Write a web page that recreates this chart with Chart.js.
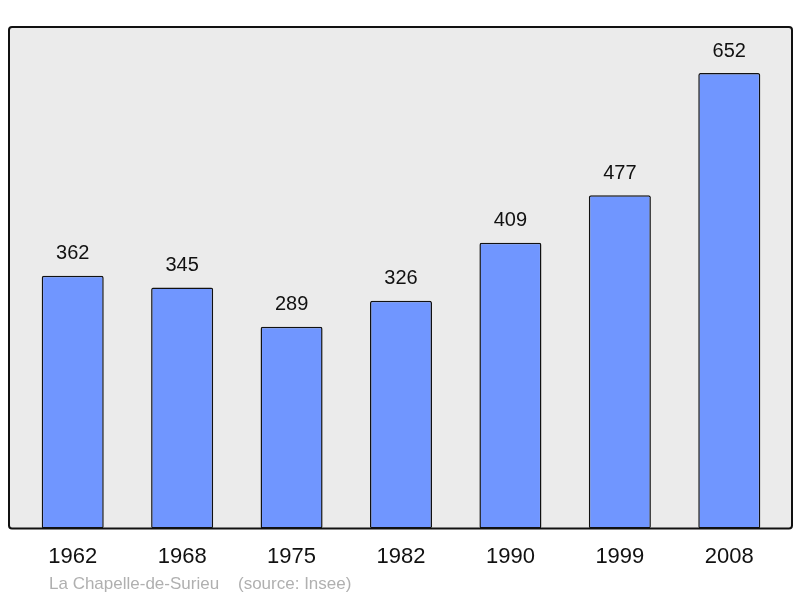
<!DOCTYPE html>
<html>
<head>
<meta charset="utf-8">
<script src="https://cdn.jsdelivr.net/npm/chart.js@4"></script>
<style>
  html, body { margin: 0; padding: 0; background: #fff; }
  #wrap { width: 800px; height: 598px; position: relative; }
</style>
</head>
<body>
<div id="wrap"><canvas id="chart" width="800" height="598"></canvas></div>
<script>
// ── Données ──
const years  = ['1962', '1968', '1975', '1982', '1990', '1999', '2008'];
const values = [362, 345, 289, 326, 409, 477, 652];
const source = 'La Chapelle-de-Surieu    (source: Insee)';

// ── Cadre gris arrondi ──
const frame = {
  id: 'frame',
  beforeDraw(chart) {
    const { ctx, chartArea: a } = chart;
    const x = a.left - 9, y = a.top, w = (a.right + 8) - x, h = a.bottom - a.top;
    ctx.save();
    ctx.beginPath();
    ctx.roundRect(x, y, w, h, 3);
    ctx.fillStyle = '#ebebeb';
    ctx.fill();
    ctx.lineWidth = 2;
    ctx.strokeStyle = '#111';
    ctx.stroke();
    ctx.restore();
  }
};

// ── Valeurs au-dessus des barres + source ──
const labels = {
  id: 'labels',
  afterDatasetsDraw(chart) {
    const { ctx } = chart;
    const meta = chart.getDatasetMeta(0);
    ctx.save();
    ctx.font = '20px "Liberation Sans", Arial, sans-serif';
    ctx.fillStyle = '#111';
    ctx.textAlign = 'center';
    ctx.textBaseline = 'middle';
    meta.data.forEach((bar, i) => {
      ctx.fillText(values[i], bar.x, bar.y - 22);
    });
    ctx.font = '17px "Liberation Sans", Arial, sans-serif';
    ctx.fillStyle = '#b0b0b0';
    ctx.textAlign = 'left';
    ctx.fillText(source, 49, 584);
    ctx.restore();
  }
};

new Chart(document.getElementById('chart'), {
  type: 'bar',
  data: {
    labels: years,
    datasets: [{
      data: values,
      backgroundColor: '#7096ff',
      borderColor: '#111',
      borderWidth: 1.5,
      borderRadius: 2,
      borderSkipped: false,
      barPercentage: 0.567,
      categoryPercentage: 1
    }]
  },
  options: {
    responsive: false,
    animation: false,
    layout: { padding: { top: 27, left: 18, right: 16, bottom: 21 } },
    plugins: { legend: { display: false }, tooltip: { enabled: false } },
    scales: {
      x: {
        grid: { display: false },
        border: { display: false },
        ticks: {
          padding: 7,
          color: '#111',
          maxRotation: 0,
          font: { family: '"Liberation Sans", Arial, sans-serif', size: 22 }
        }
      },
      y: { display: false, min: 0, max: 718 }
    }
  },
  plugins: [frame, labels]
});
</script>
</body>
</html>
